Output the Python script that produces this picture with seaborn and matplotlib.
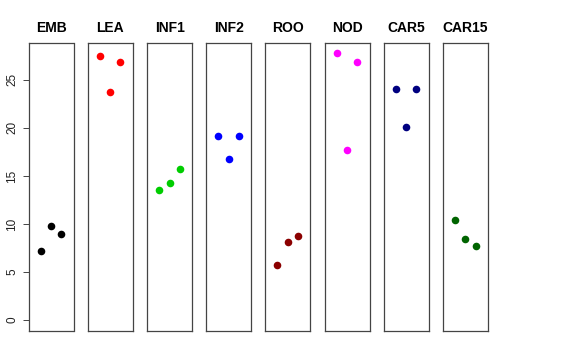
import matplotlib
matplotlib.use("Agg")
import matplotlib.pyplot as plt
import seaborn as sns
import pandas as pd

sns.set_style("white")
plt.rcParams['font.family'] = ['Liberation Sans', 'DejaVu Sans']

groups = ["EMB", "LEA", "INF1", "INF2", "ROO", "NOD", "CAR5", "CAR15"]
colors = ["#000000", "#FF0000", "#00CD00", "#0000FF", "#8B0000", "#FF00FF", "#000080", "#006400"]
rep = [1, 2, 3]
emb = [7.2, 9.8, 9.0]
lea = [27.5, 23.7, 26.9]
inf1 = [13.5, 14.3, 15.7]
inf2 = [19.2, 16.8, 19.1]
roo = [5.7, 8.1, 8.75]
nod = [27.75, 17.7, 26.8]
car5 = [24.05, 20.05, 24.0]
car15 = [10.4, 8.4, 7.75]
values = [emb, lea, inf1, inf2, roo, nod, car5, car15]
yticks = [0, 5, 10, 15, 20, 25]

W, H = 576, 360
fig = plt.figure(figsize=(W / 100, H / 100), dpi=100)
lefts = [28.7, 87.7, 147.3, 206.3, 265.3, 324.7, 383.7, 443.0]
pw = 44.8
top_px, bot_px = 42.7, 330.7
ymax = max(max(v) for v in values)
yr = ymax * 0.04
for i, (g, c, v) in enumerate(zip(groups, colors, values)):
    ax = fig.add_axes([lefts[i] / W, 1 - bot_px / H, pw / W, (bot_px - top_px) / H])
    df = pd.DataFrame({"rep": rep, "value": v})
    sns.scatterplot(data=df, x="rep", y="value", color=c, s=30, linewidth=0, ax=ax)
    ax.set_xlim(-0.16, 4.16)
    ax.set_ylim(-yr, ymax + yr)
    ax.set_xlabel("")
    ax.set_ylabel("")
    ax.set_xticks([])
    ax.set_title(g, fontsize=10, fontweight="bold", pad=7.5, color="black")
    for sp in ax.spines.values():
        sp.set_color("#444444")
        sp.set_linewidth(0.9)
    if i == 0:
        ax.set_yticks(yticks)
        ax.set_yticklabels([str(t) for t in yticks], rotation=90, va="center", fontsize=8.5)
        ax.tick_params(axis="y", left=True, length=4.5, width=0.7, color="#444444", pad=3, labelcolor="#222222")
    else:
        ax.set_yticks([])

fig.savefig("out.png", dpi=100)
